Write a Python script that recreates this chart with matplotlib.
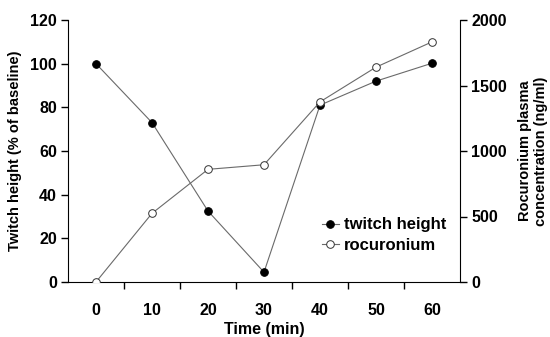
import matplotlib
matplotlib.use("Agg")
import matplotlib.pyplot as plt
from matplotlib.ticker import FixedLocator

time = [0, 10, 20, 30, 40, 50, 60]
twitch = [100, 73, 32.5, 4.5, 81, 92, 100.2]
rocuronium = [0, 524, 860, 895, 1375, 1640, 1833]
left_ticks = [0, 20, 40, 60, 80, 100, 120]
right_ticks = [0, 500, 1000, 1500, 2000]

plt.rcParams['font.family'] = ['Liberation Sans', 'DejaVu Sans']

fig = plt.figure(figsize=(5.5, 3.37), dpi=100)
ax = fig.add_axes([68/550, 1-282/337, (460-68)/550, (282-20)/337])
ax2 = ax.twinx()

line_c = '#6a6a6a'
h1, = ax.plot(time, twitch, color=line_c, lw=0.8, marker='o', ms=5.5,
              mfc='black', mec='black', mew=0.7, label='twitch height', zorder=3)
h2, = ax2.plot(time, rocuronium, color=line_c, lw=0.8, marker='o', ms=5.5,
               mfc='white', mec='#333333', mew=0.7, label='rocuronium', zorder=3)

ax.set_xlim(-5, 65)
ax.set_ylim(0, 120)
ax2.set_ylim(0, 2000)

ax.set_xticks(time)
ax.xaxis.set_minor_locator(FixedLocator([5, 15, 25, 35, 45, 55]))
ax.tick_params(axis='x', which='major', length=0, pad=15)
ax.tick_params(axis='x', which='minor', length=5, width=1, direction='out')
ax.set_yticks(left_ticks)
ax.tick_params(axis='y', length=5, width=1, direction='out', pad=3)
ax2.set_yticks(right_ticks)
ax2.tick_params(axis='y', length=5, width=1, direction='out', pad=3)

for a in (ax, ax2):
    for lab in a.get_xticklabels() + a.get_yticklabels():
        lab.set_fontweight('bold')
        lab.set_fontsize(11.5)
    a.spines['top'].set_visible(False)
ax.spines['right'].set_visible(False)
ax2.spines['left'].set_visible(False)
ax2.spines['bottom'].set_visible(False)

ax.set_xlabel('Time (min)', fontsize=11.5, fontweight='bold', labelpad=3)
ax.set_ylabel('Twitch height (% of baseline)', fontsize=10.5, fontweight='bold', labelpad=6)
ax2.set_ylabel('Rocuronium plasma\nconcentration (ng/ml)', fontsize=10.5,
               fontweight='bold', labelpad=8, linespacing=1.2)

leg = ax2.legend(handles=[h1, h2], loc='center left',
                 bbox_to_anchor=((322-68)/392, (282-235)/262),
                 frameon=False, handlelength=1.0, handletextpad=0.3,
                 labelspacing=0.3, borderpad=0, borderaxespad=0,
                 prop={'weight': 'bold', 'size': 12})

fig.savefig('out.png', dpi=100)
